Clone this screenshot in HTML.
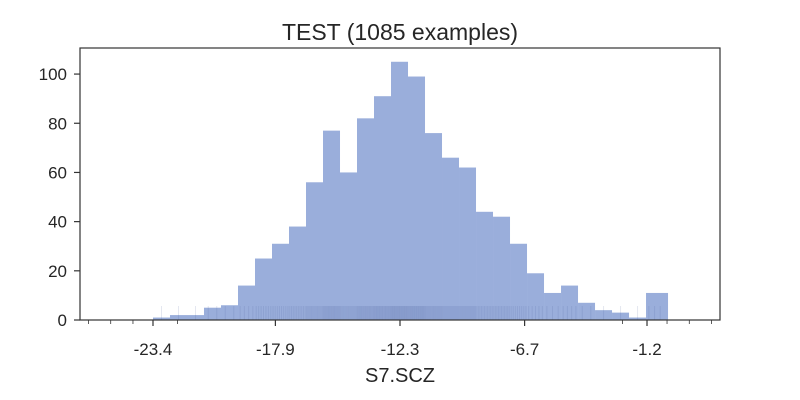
<!DOCTYPE html>
<html><head><meta charset="utf-8"><style>
body{margin:0;background:#fff;}
svg{display:block;font-family:"Liberation Sans",sans-serif;}
</style></head><body>
<svg id="chart" width="800" height="400">
<rect x="0" y="0" width="800" height="400" fill="#fff"/>
<text x="400" y="40" text-anchor="middle" font-size="23" fill="#262626">TEST (1085 examples)</text>
<text x="400" y="382" text-anchor="middle" font-size="20" fill="#262626">S7.SCZ</text>
<g id="bars"></g>
<g id="rug"></g>
<g id="axes"></g>
</svg>
<script>
const counts=[1,2,2,5,6,14,25,31,38,56,77,60,82,91,105,99,76,66,62,44,42,31,19,11,14,7,4,3,1,11];
const binStart=-23.4;
const binWidth=0.764;
const xTicks=[-23.4,-17.9,-12.3,-6.7,-1.2];
const xTickLabels=["-23.4","-17.9","-12.3","-6.7","-1.2"];
const xMinorTicks=[-26.3,-25.3,-24.3,-22.3,-2.3,-0.3,0.7,1.7];
const yTicks=[0,20,40,60,80,100];
const L=80,R=720,T=48,B=320;
const xMin=-26.68,xMax=2.08,yMin=0,yMax=110.6;
function xs(v){return L+(v-xMin)/(xMax-xMin)*(R-L);}
function ys(v){return B-(v-yMin)/(yMax-yMin)*(B-T);}
const NS="http://www.w3.org/2000/svg";
function mk(tag,attrs,parent){const e=document.createElementNS(NS,tag);for(const k in attrs)e.setAttribute(k,attrs[k]);parent.appendChild(e);return e;}
const bars=document.getElementById('bars'),rug=document.getElementById('rug'),axes=document.getElementById('axes');
counts.forEach((c,i)=>{
  const x0=xs(binStart+i*binWidth),x1=xs(binStart+(i+1)*binWidth)+(i===counts.length-1?5:0);
  const r=mk('rect',{x:x0,y:ys(c),width:x1-x0,height:ys(0)-ys(c),fill:'#9aaedb'},bars);
  
  
  const n=Math.ceil(c/4);
  for(let k=0;k<n;k++){
    const v=binStart+(i+(k+0.5)/n)*binWidth;
    const l=mk('line',{x1:xs(v),x2:xs(v),y1:ys(0),y2:ys(0)-14,stroke:'#4c5f9a','stroke-opacity':0.15,'stroke-width':1},rug);
    
    
  }
});
const frame=mk('rect',{x:L,y:T,width:R-L,height:B-T,fill:'none',stroke:'#333','stroke-width':1.2},axes);


xTicks.forEach((v,i)=>{
  const t=mk('line',{x1:xs(v),x2:xs(v),y1:B,y2:B+6,stroke:'#333','stroke-width':1.2},axes);
  
  
  const tx=mk('text',{x:xs(v),y:B+35,'text-anchor':'middle','font-size':17,fill:'#262626'},axes);
  tx.textContent=xTickLabels[i];
  
  
});
xMinorTicks.forEach(v=>{
  const t=mk('line',{x1:xs(v),x2:xs(v),y1:B,y2:B+4,stroke:'#333','stroke-width':0.8},axes);
  
  
});
yTicks.forEach(v=>{
  const t=mk('line',{x1:L-6,x2:L,y1:ys(v),y2:ys(v),stroke:'#333','stroke-width':1.2},axes);
  
  
  const tx=mk('text',{x:L-13,y:ys(v)+6,'text-anchor':'end','font-size':17,fill:'#262626'},axes);
  tx.textContent=v;
  
  
});
</script>
</body></html>
